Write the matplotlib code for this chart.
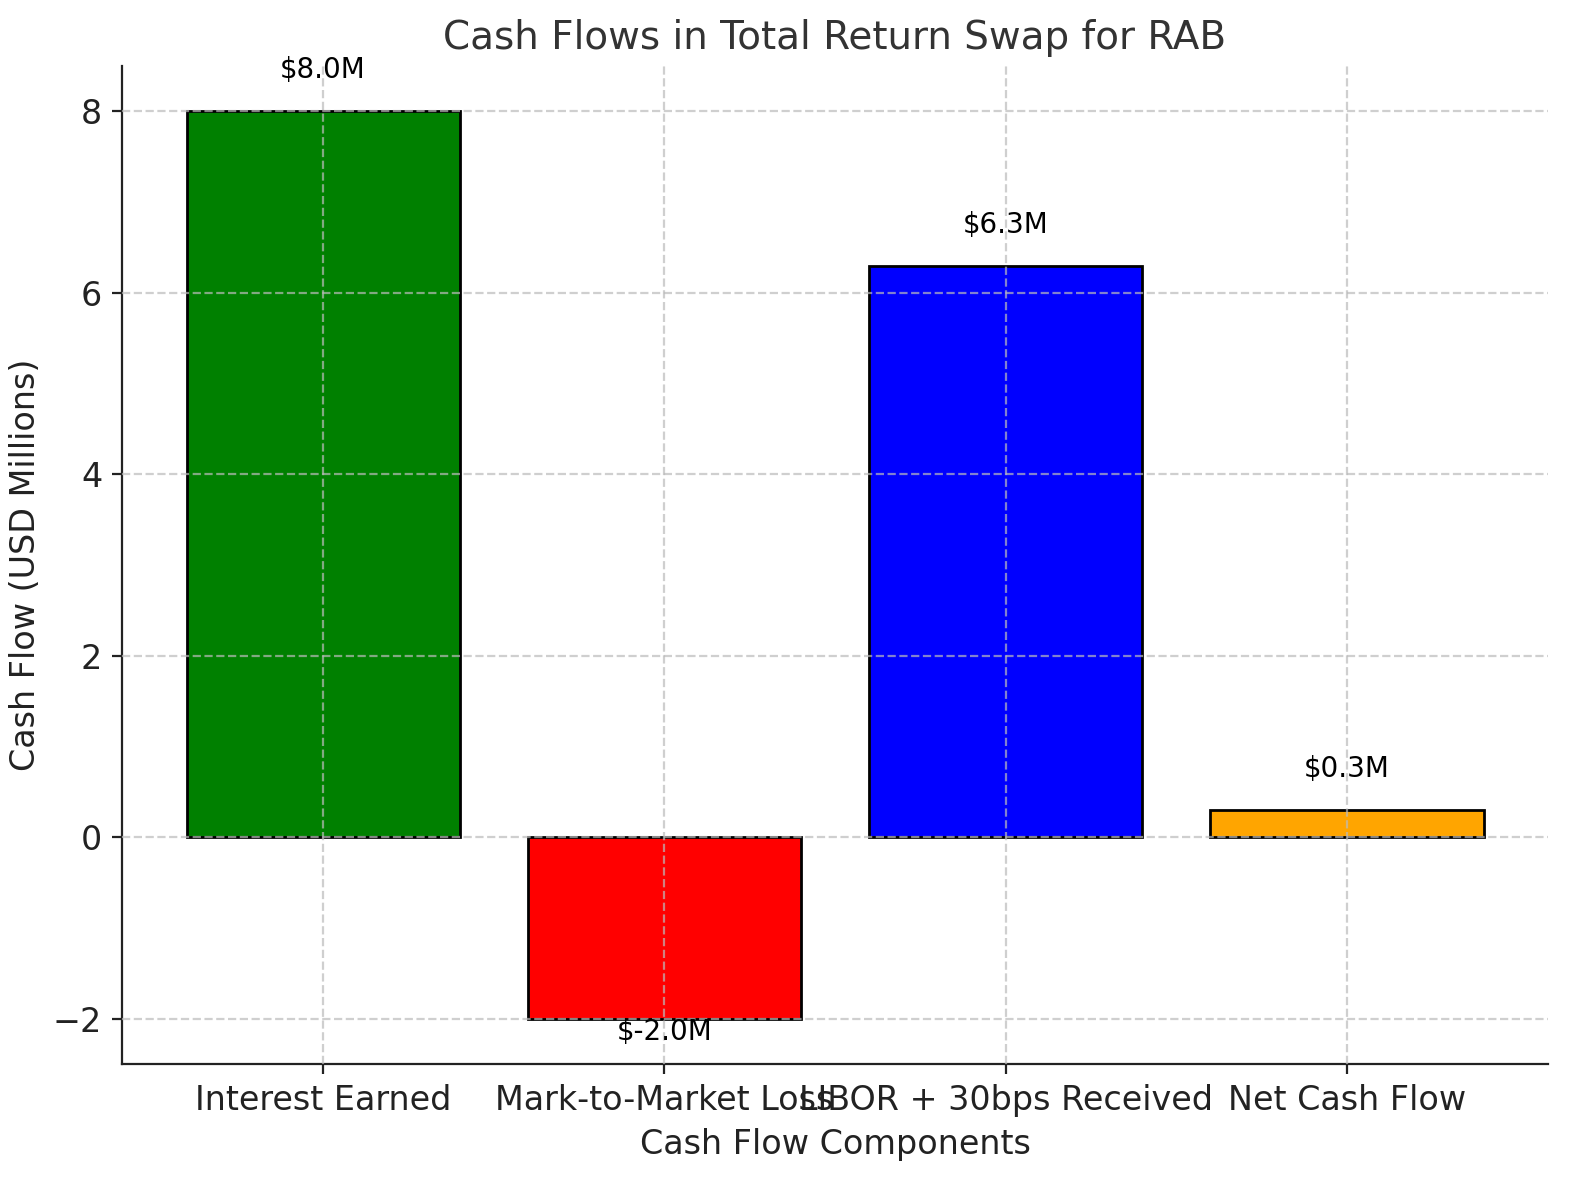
import matplotlib
matplotlib.use("Agg")
import matplotlib.pyplot as plt

categories = ["Interest Earned", "Mark-to-Market Loss", "LIBOR + 30bps Received", "Net Cash Flow"]
values = [8.0, -2.0, 6.3, 0.3]
colors = ["green", "red", "blue", "orange"]

plt.rcParams['font.family'] = ['DejaVu Sans']
fig, ax = plt.subplots(figsize=(7.9, 5.9), dpi=200)
bars = ax.bar(categories, values, color=colors, edgecolor="black", linewidth=1)

for b, v in zip(bars, values):
    y = v + 0.3 if v > 0 else v - 0.3
    ax.text(b.get_x() + b.get_width() / 2, y, f"${v:.1f}M", ha="center", va="bottom", fontsize=10)

ax.set_title("Cash Flows in Total Return Swap for RAB", fontsize=14, color="#333333")
ax.set_xlabel("Cash Flow Components", fontsize=12, color="#222222")
ax.set_ylabel("Cash Flow (USD Millions)", fontsize=12, color="#222222")
ax.tick_params(labelsize=12, colors="#222222")
ax.set_axisbelow(False)
ax.grid(True, linestyle="--", color="#bbbbbb", alpha=0.7, linewidth=0.8)
ax.spines["top"].set_visible(False)
ax.spines["right"].set_visible(False)
for s in ("left", "bottom"):
    ax.spines[s].set_color("#222222")
fig.subplots_adjust(left=0.077, right=0.98, top=0.944, bottom=0.098)
fig.savefig("out.png", dpi=200)
